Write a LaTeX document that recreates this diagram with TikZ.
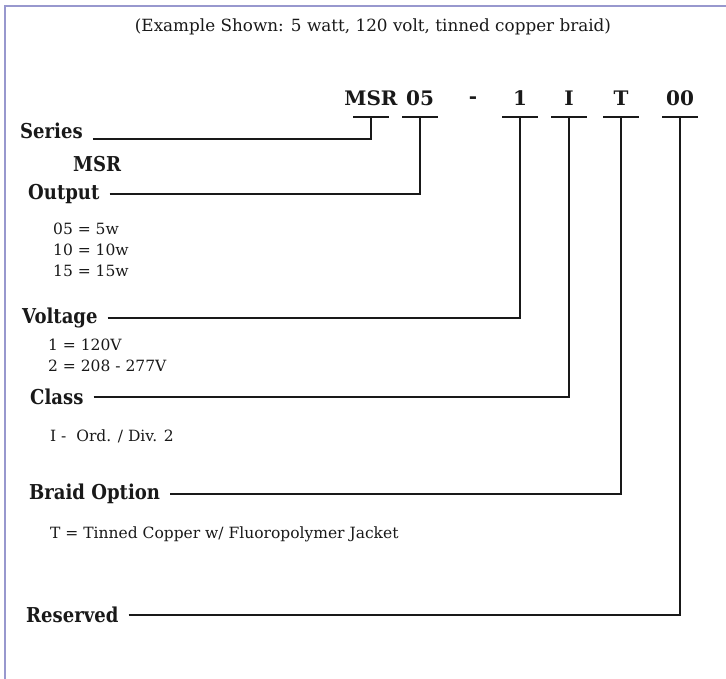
\documentclass[tikz,border=0pt]{standalone}
\usepackage{fontspec}
\setmainfont{DejaVu Serif}
\newfontfamily\lblfont{DejaVu Serif}[FakeStretch=0.88]
\usetikzlibrary{positioning}
\definecolor{framecol}{RGB}{152,152,206}
\definecolor{ink}{RGB}{25,25,25}

\begin{document}
\begin{tikzpicture}[x=1pt, y=-1pt,
    lbl/.style={font=\fontsize{20.5}{24}\lblfont\bfseries, text=ink, inner sep=0pt, anchor=west},
    code/.style={font=\fontsize{20}{24}\selectfont\bfseries, text=ink, inner sep=0pt},
    desc/.style={font=\fontsize{15.5}{21}\selectfont, text=ink, inner sep=0pt, anchor=north west, align=left},
    lead/.style={draw=ink, line width=1.3pt, shorten <=10pt},
    bar/.style={draw=ink, line width=1.6pt}
]
    \useasboundingbox[fill=white] (0,0) rectangle (726,679);
    \draw[framecol, line width=2pt] (5,679) -- (5,6) -- (726,6);

    \node[font=\fontsize{16.8}{20}\selectfont, text=ink] (title) at (373,27) {(Example Shown: 5 watt, 120 volt, tinned copper braid)};

    % part number
    \coordinate (bMSR) at (371,117);
    \coordinate (b05) at (420,117);
    \coordinate (b1) at (520,117);
    \coordinate (bI) at (569,117);
    \coordinate (bT) at (621,117);
    \coordinate (b00) at (680,117);
    \node[code, above=11pt of bMSR] (cMSR) {MSR};
    \node[code, above=11pt of b05] (c05) {05};
    \node[code] (cdash) at (473,100) {-};
    \node[code, above=11pt of b1] (c1) {1};
    \node[code, above=11pt of bI] (cI) {I};
    \node[code, above=11pt of bT] (cT) {T};
    \node[code, above=11pt of b00] (c00) {00};
    \foreach \b in {bMSR,b05,b1,bI,bT,b00}
        \draw[bar] ([xshift=-18pt]\b) -- ([xshift=18pt]\b);

    % fields
    \node[lbl, anchor=base west] (series) at (20,139) {Series};
    \node[lbl] (msr) at (73,164) {MSR};
    \node[lbl] (output) at (28,194) {Output};
    \node[desc] (outval) at (53,223) {05 = 5w\\10 = 10w\\15 = 15w};
    \node[lbl] (voltage) at (22,318) {Voltage};
    \node[desc] (voltval) at (48,339) {1 = 120V\\2 = 208 - 277V};
    \node[lbl] (class) at (30,397) {Class};
    \node[desc] (classval) at (50,430) {I -\ \ Ord. / Div. 2};
    \node[lbl] (braid) at (29,494) {Braid Option};
    \node[desc] (braidval) at (50,527) {T = Tinned Copper w/ Fluoropolymer Jacket};
    \node[lbl] (reserved) at (26,615) {Reserved};

    \draw[lead] (series.base east) -| (bMSR);
    \draw[lead] (output.east) -| (b05);
    \draw[lead] (voltage.east) -| (b1);
    \draw[lead] (class.east) -| (bI);
    \draw[lead] (braid.east) -| (bT);
    \draw[lead] (reserved.east) -| (b00);
\end{tikzpicture}
\end{document}
